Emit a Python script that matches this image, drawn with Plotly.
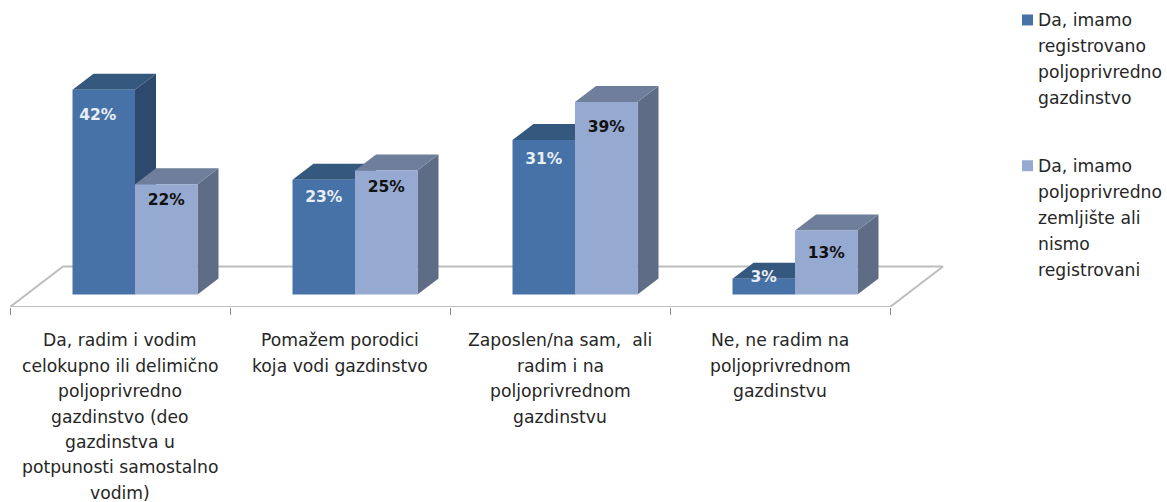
import plotly.graph_objects as go

# ---------- data ----------
categories = [
    ["Da, radim i vodim", "celokupno ili delimično", "poljoprivredno", "gazdinstvo (deo",
     "gazdinstva u", "potpunosti samostalno", "vodim)"],
    ["Pomažem porodici", "koja vodi gazdinstvo"],
    ["Zaposlen/na sam,  ali", "radim i na", "poljoprivrednom", "gazdinstvu"],
    ["Ne, ne radim na", "poljoprivrednom", "gazdinstvu"],
]
series_a_name = ["Da, imamo", "registrovano", "poljoprivredno", "gazdinstvo"]
series_b_name = ["Da, imamo", "poljoprivredno", "zemljište ali", "nismo", "registrovani"]
series_a = [41.6, 23.3, 31.4, 3.2]
series_b = [22.4, 25.2, 39.1, 13.0]

# ---------- geometry ----------
W, H = 1167, 502
L, R_PX, AXIS_PX, BASE_PX = 10, 890, 307.5, 295
PLOT_R = W
PX_PER_X = (R_PX - L) / 4
PX_PER_Y = 4.93
FONT = "DejaVu Sans"
FS = 17.2
TXT = "#262626"

def dx(px): return px / PX_PER_X
def dy(px): return px / PX_PER_Y
def yval(py): return (BASE_PX - py) / PX_PER_Y
def xval(px): return (px - L) / PX_PER_X - 0.5
def xp(px): return (px - L) / (PLOT_R - L)
def yp(py): return 1 - py / AXIS_PX

SHIFT = dx(15)
BW = dx(62.5)
DEPTH_X, DEPTH_Y = dx(21), dy(16)

xs = list(range(len(categories)))
fig = go.Figure()

# floor
FX, FY = dx(53), yval(267)
fy0 = yval(AXIS_PX)
fig.add_trace(go.Scatter(
    x=[-0.5, -0.5 + FX, 3.5 + FX, 3.5, -0.5], y=[fy0, FY, FY, fy0, fy0], mode="lines",
    line=dict(color="#BDBDBD", width=2), cliponaxis=False, hoverinfo="skip",
    showlegend=False, zorder=0))

def faces(values, left, col_top, col_side, z, name):
    tx, ty, sx, sy = [], [], [], []
    for i, v in zip(xs, values):
        x0 = i + SHIFT + left
        x1 = x0 + BW
        tx += [x0, x0 + DEPTH_X, x1 + DEPTH_X, x1, x0, None]
        ty += [v, v + DEPTH_Y, v + DEPTH_Y, v, v, None]
        sx += [x1, x1 + DEPTH_X, x1 + DEPTH_X, x1, x1, None]
        sy += [0, DEPTH_Y, v + DEPTH_Y, v, 0, None]
    for px_, py_, c, suffix in ((sx, sy, col_side, "side"), (tx, ty, col_top, "top")):
        fig.add_trace(go.Scatter(
            x=px_, y=py_, mode="lines", fill="toself", fillcolor=c, line=dict(width=0, color=c),
            cliponaxis=False, hoverinfo="skip", showlegend=False, zorder=z,
            name=f"{name} {suffix}"))

name_a = " ".join(series_a_name)
name_b = " ".join(series_b_name)
COL_A, COL_B = "#4672A8", "#96AAD1"

faces(series_a, -BW, "#35587F", "#2D4A6E", 1, name_a)
fig.add_trace(go.Bar(
    x=xs, y=series_a, width=BW, offset=SHIFT - BW, name=name_a,
    marker=dict(color=COL_A, line=dict(width=0)), showlegend=False, cliponaxis=False, zorder=2))
faces(series_b, 0, "#6F7F9B", "#5F6C86", 3, name_b)
fig.add_trace(go.Bar(
    x=xs, y=series_b, width=BW, offset=SHIFT, name=name_b,
    marker=dict(color=COL_B, line=dict(width=0)), showlegend=False, cliponaxis=False, zorder=4))

# value labels (pixel nudges below each bar top)
nudge_a = [26, 18, 20, -1]
xnudge_a = [-6, 0, 0, 0]
nudge_b = [16.5, 18, 26, 24]
fig.add_trace(go.Scatter(
    x=[i + SHIFT - BW / 2 + dx(n) for i, n in zip(xs, xnudge_a)],
    y=[v - dy(n) for v, n in zip(series_a, nudge_a)],
    mode="text", text=[f"{v:.0f}%" for v in series_a],
    textposition="middle center",
    textfont=dict(family=FONT, size=15.5, color="#E8EEF6", weight="bold"),
    cliponaxis=False, hoverinfo="skip", showlegend=False, zorder=5))
fig.add_trace(go.Scatter(
    x=[i + SHIFT + BW / 2 for i in xs],
    y=[v - dy(n) for v, n in zip(series_b, nudge_b)],
    mode="text", text=[f"{v:.0f}%" for v in series_b],
    textposition="middle center",
    textfont=dict(family=FONT, size=15.5, color="#111111", weight="bold"),
    cliponaxis=False, hoverinfo="skip", showlegend=False, zorder=5))

annotations = []
LINE = 25.4
# category labels: one annotation per line, to hold the reference line pitch
for i, lines in zip(xs, categories):
    for k, t in enumerate(lines):
        annotations.append(dict(
            x=i, y=yp(341 + LINE * k), xref="x", yref="paper", text=t, showarrow=False,
            xanchor="center", yanchor="middle", font=dict(family=FONT, size=FS, color=TXT)))

# legend
shapes = []
for lines, top, col in ((series_a_name, 20, COL_A), (series_b_name, 166, COL_B)):
    shapes.append(dict(type="rect", xref="paper", yref="paper",
                       x0=xp(1022), x1=xp(1033), y0=yp(top - 5.5), y1=yp(top + 5.5),
                       fillcolor=col, line=dict(width=0)))
    for k, t in enumerate(lines):
        annotations.append(dict(
            x=xp(1036), y=yp(top + 26 * k), xref="paper", yref="paper", text=t, showarrow=False,
            xanchor="left", yanchor="middle", font=dict(family=FONT, size=FS, color=TXT)))

fig.update_layout(
    width=W, height=H, paper_bgcolor="white", plot_bgcolor="white",
    margin=dict(l=L, r=W - PLOT_R, t=0, b=H - AXIS_PX, pad=0),
    showlegend=False, barmode="overlay",
    annotations=annotations, shapes=shapes,
    xaxis=dict(range=[-0.5, xval(PLOT_R)], showgrid=False, zeroline=False, showline=False,
               showticklabels=False, tickmode="array", tickvals=[], ticks="",
               minor=dict(tickmode="array", tickvals=[-0.5, 0.5, 1.5, 2.5, 3.5],
                          ticks="outside", ticklen=7, tickwidth=1, tickcolor="#8C8C8C",
                          showgrid=False)),
    yaxis=dict(range=[yval(AXIS_PX), yval(0)], visible=False, showgrid=False, zeroline=False),
)

fig.write_html("out.html", config=dict(displayModeBar=False),
               post_script="document.body.style.margin='0';")
